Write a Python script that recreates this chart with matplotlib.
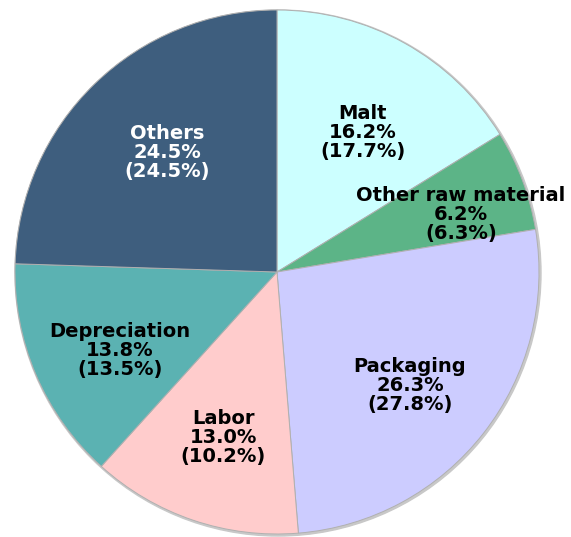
import matplotlib.pyplot as plt
import numpy as np

labels = ['Malt', 'Other raw material', 'Packaging', 'Labor', 'Depreciation', 'Others']
share = [16.2, 6.2, 26.3, 13.0, 13.8, 24.5]
share_prev = [17.7, 6.3, 27.8, 10.2, 13.5, 24.5]

colors = ['#ccffff', '#5cb487', '#ccccff', '#ffcccc', '#5bb2b2', '#3e5e7e']
text_colors = ['black', 'black', 'black', 'black', 'black', 'white']
# label placement: radius fraction and angle nudge (deg) from wedge middle
label_r = [0.627, 0.735, 0.666, 0.666, 0.669, 0.621]
label_dang = [-2.4, -3.3, -2.4, 0.7, 3.4, -1.6]

W, H = 571, 537
fig = plt.figure(figsize=(W / 100, H / 100), dpi=100)
ax = fig.add_axes([0, 0, 1, 1])

cx, cy, R = 277, H - 272, 262

# soft shadow ring
shadow = plt.Circle((cx + 1, cy - 1), R + 1, color='#c8c8c8', zorder=0)
ax.add_patch(shadow)

wedges, _ = ax.pie(share, colors=colors, startangle=90, counterclock=False,
                   center=(cx, cy), radius=R, frame=True,
                   wedgeprops=dict(edgecolor='#b0b0b0', linewidth=0.7))
ax.set_xlim(0, W)
ax.set_ylim(0, H)
ax.set_aspect('equal')
ax.axis('off')

for w, name, s, p, tc, lr, da in zip(wedges, labels, share, share_prev,
                                     text_colors, label_r, label_dang):
    ang = np.deg2rad((w.theta1 + w.theta2) / 2 + da)
    x = cx + lr * R * np.cos(ang)
    y = cy + lr * R * np.sin(ang)
    ax.text(x, y, f'{name}\n{s:.1f}%\n({p:.1f}%)', ha='center', va='center',
            fontsize=14, fontweight='bold', color=tc, linespacing=1.0,
            family='DejaVu Sans')

fig.savefig('out.png', dpi=100)
